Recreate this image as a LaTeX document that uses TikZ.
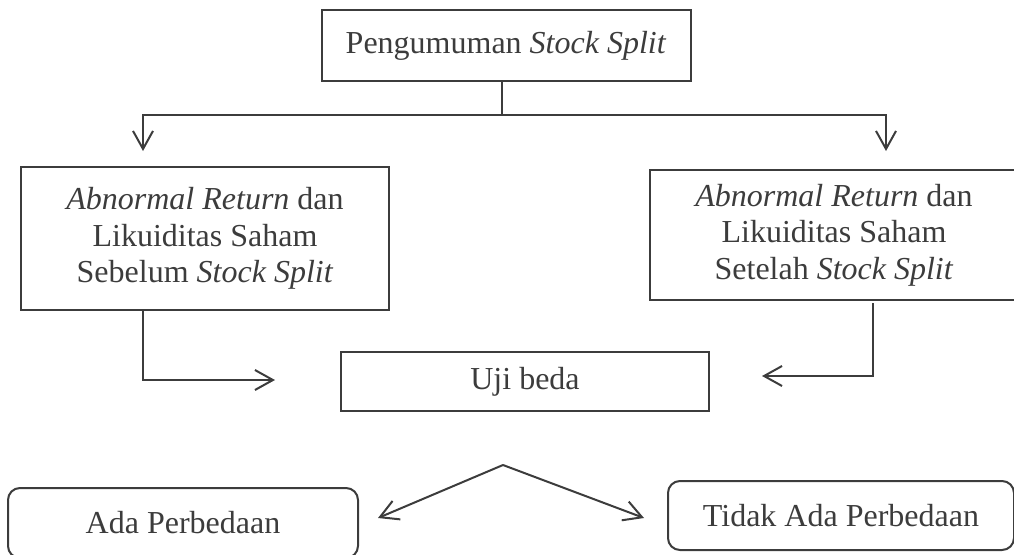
\documentclass[tikz,border=0pt]{standalone}
\usepackage{fontspec}
\setmainfont{Liberation Serif}
\usetikzlibrary{arrows.meta}
\definecolor{ink}{HTML}{3C3C3C}
\tikzset{
	box/.style={draw=ink, line width=2pt, text=ink, align=center, inner sep=0pt,
		font=\fontsize{32}{36.5}\selectfont},
	result/.style={box, rounded corners=12pt},
	arr/.style={-{Straight Barb[length=18pt,width=20pt]}},
}
\begin{document}
\begin{tikzpicture}[x=1pt,y=-1pt,line width=2pt,draw=ink]
	\useasboundingbox (0,0) rectangle (1014,554);
	
	\node [box, minimum width=369pt, minimum height=71pt] (pengumuman) at (506,45.5) {Pengumuman \textit{Stock Split}};
	\node [box, minimum width=368pt, minimum height=143pt] (sebelum) at (205,238.5) {\textit{Abnormal Return} dan\\Likuiditas Saham\\Sebelum \textit{Stock Split}};
	\node [box, minimum width=368pt, minimum height=130pt] (setelah) at (834,235) {\textit{Abnormal Return} dan\\Likuiditas Saham\\Setelah \textit{Stock Split}};
	\node [box, minimum width=368pt, minimum height=59pt] (uji) at (525,381.5) {Uji beda};
	\node [result, minimum width=350pt, minimum height=70pt] (ada) at (183,523) {Ada Perbedaan};
	\node [result, minimum width=346pt, minimum height=69pt] (tidak) at (841,515.5) {Tidak Ada Perbedaan};
	
	\coordinate (fork) at (502,115);
	\coordinate (inL) at (143,151);
	\coordinate (inR) at (886,151);
	\coordinate (toUjiL) at (275,380);
	\coordinate (outR) at (873,303);
	\coordinate (toUjiR) at (762,376);
	\coordinate (peak) at (503,465);
	\coordinate (toAda) at (378,518);
	\coordinate (toTidak) at (644,518);
	
	\draw (pengumuman.south -| fork) -- (fork);
	\draw [arr] (fork) -| (inL);
	\draw [arr] (fork) -| (inR);
	
	\draw [arr] (sebelum.south -| inL) |- (toUjiL);
	\draw [arr] (outR) |- (toUjiR);
	
	\draw [arr] (peak) -- (toAda);
	\draw [arr] (peak) -- (toTidak);
	
\end{tikzpicture}
\end{document}
